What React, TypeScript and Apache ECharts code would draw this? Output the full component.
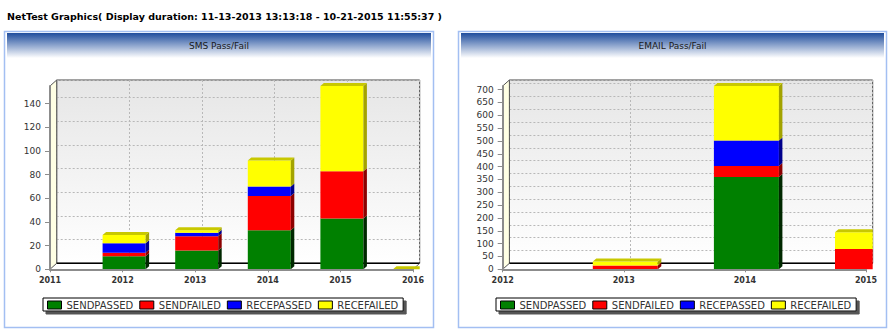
import React, { useEffect, useRef } from "react";
import * as echarts from "echarts";

// ---------- data ----------
const SERIES_NAMES = ["SENDPASSED", "SENDFAILED", "RECEPASSED", "RECEFAILED"];

const SMS_YEARS = [2012, 2013, 2014, 2015, 2016];
const SMS_SENDPASSED = [11, 16, 33, 43, 0];
const SMS_SENDFAILED = [3, 12, 29, 40, 0];
const SMS_RECEPASSED = [8, 3, 8, 0, 0];
const SMS_RECEFAILED = [7, 2, 22, 72, 0];
const SMS_X_RANGE = [2011, 2016];
const SMS_Y_MAX = 155;
const SMS_Y_STEP = 20;

const EMAIL_YEARS = [2013, 2014, 2015];
const EMAIL_SENDPASSED = [0, 360, 0];
const EMAIL_SENDFAILED = [15, 42, 79];
const EMAIL_RECEPASSED = [0, 100, 0];
const EMAIL_RECEFAILED = [15, 212, 65];
const EMAIL_X_RANGE = [2012, 2015];
const EMAIL_Y_MAX = 714;
const EMAIL_Y_STEP = 50;

const PAGE_TITLE =
  "NetTest Graphics( Display duration: 11-13-2013 13:13:18 - 10-21-2015 11:55:37 )";
const SMS_TITLE = "SMS Pass/Fail";
const EMAIL_TITLE = "EMAIL Pass/Fail";

// ---------- styles ----------
const FONT = "DejaVu Sans";
const FRONT = ["#008000", "#ff0000", "#0000ff", "#ffff00"];
const SIDE = ["#002800", "#8c0000", "#00008c", "#a3a300"];
const CAP = "#c8c800";
const DX = 6.7; // wall depth
const DY = -6;
const BDX = 3.5; // bar depth
const BDY = -3;
const BAR_SHIFT = 1.5;

function stackData(years: number[], arrays: number[][]) {
  const base = years.map(() => 0);
  return arrays.map((vals) =>
    years.map((y, j) => {
      const item = [y, vals[j], base[j]];
      base[j] += vals[j];
      return item;
    })
  );
}

function frameRender(xmin: number, xmax: number, ymax: number) {
  return (_p: any, api: any) => {
    const p00 = api.coord([xmin, 0]);
    const p10 = api.coord([xmax, 0]);
    const p0t = api.coord([xmin, ymax]);
    return {
      type: "group",
      children: [
        {
          type: "polygon",
          shape: {
            points: [p00, p10, [p10[0] + DX, p10[1] + DY], [p00[0] + DX, p00[1] + DY]],
          },
          style: { fill: "#ffffff" },
        },
        {
          type: "polygon",
          shape: {
            points: [p00, [p00[0] + DX, p00[1] + DY], [p0t[0] + DX, p0t[1] + DY], p0t],
          },
          style: { fill: "#ffffe4", stroke: "#555", lineWidth: 1 },
        },
        {
          type: "line",
          shape: { x1: p00[0] + DX, y1: p00[1] + DY, x2: p10[0] + DX, y2: p10[1] + DY },
          style: { stroke: "#000", lineWidth: 1.6 },
        },
        {
          type: "line",
          shape: { x1: p10[0], y1: p10[1], x2: p10[0] + DX, y2: p10[1] + DY },
          style: { stroke: "#666", lineWidth: 1 },
        },
      ],
    };
  };
}

function barRender(idx: number, isTop: boolean, barW: number, xmax: number) {
  return (_p: any, api: any) => {
    const x = api.value(0);
    const v = api.value(1);
    const b = api.value(2);
    const pb = api.coord([x, b]);
    const pt = api.coord([x, b + v]);
    const clipX = api.coord([xmax, 0])[0] + DX;
    const left = pb[0] - barW / 2 + BAR_SHIFT;
    const right = left + barW;
    const r = Math.min(right, clipX);
    const children: any[] = [];
    if (v > 0) {
      children.push({
        type: "rect",
        shape: { x: left, y: pt[1], width: r - left, height: pb[1] - pt[1] },
        style: { fill: FRONT[idx] },
      });
      if (right + BDX <= clipX) {
        children.push({
          type: "polygon",
          shape: {
            points: [
              [right, pb[1]],
              [right + BDX, pb[1] + BDY],
              [right + BDX, pt[1] + BDY],
              [right, pt[1]],
            ],
          },
          style: { fill: SIDE[idx] },
        });
      }
    }
    if (isTop) {
      children.push({
        type: "polygon",
        shape: {
          points: [
            [left, pt[1]],
            [left + BDX, pt[1] + BDY],
            [Math.min(right + BDX, clipX), pt[1] + BDY],
            [r, pt[1]],
          ],
        },
        style: { fill: CAP },
      });
    }
    return { type: "group", children };
  };
}

const backGradient = {
  type: "linear",
  x: 0,
  y: 0,
  x2: 0,
  y2: 1,
  colorStops: [
    { offset: 0, color: "#e6e6e6" },
    { offset: 1, color: "#ffffff" },
  ],
};

function buildChart(
  gi: number,
  front: { left: number; top: number; width: number; height: number },
  xRange: number[],
  yMax: number,
  yStep: number,
  years: number[],
  arrays: number[][],
  barW: number
) {
  const grids = [
    {
      left: front.left + DX,
      top: front.top + DY,
      width: front.width,
      height: front.height,
      show: true,
      backgroundColor: backGradient,
      borderColor: "#444",
      borderWidth: 1,
    },
    { left: front.left, top: front.top, width: front.width, height: front.height },
  ];
  const dashed = { show: true, lineStyle: { color: "#b8b8b8", type: [2, 2], width: 1 } };
  const xAxes = [
    {
      type: "value",
      gridIndex: gi,
      min: xRange[0],
      max: xRange[1],
      interval: 1,
      axisLine: { show: false },
      axisTick: { show: false },
      axisLabel: { show: false },
      splitLine: dashed,
    },
    {
      type: "value",
      gridIndex: gi + 1,
      min: xRange[0],
      max: xRange[1],
      interval: 1,
      z: 5,
      axisLine: { show: true, lineStyle: { color: "#8c8c8c", width: 2 } },
      axisTick: { show: true, length: 3, lineStyle: { color: "#8c8c8c" } },
      axisLabel: {
        margin: 7,
        fontFamily: FONT,
        fontSize: 8,
        fontWeight: "bold",
        color: "#333",
        formatter: (v: number) => String(v),
      },
      splitLine: { show: false },
    },
  ];
  const yAxes = [
    {
      type: "value",
      gridIndex: gi,
      min: 0,
      max: yMax,
      interval: yStep,
      axisLine: { show: false },
      axisTick: { show: false },
      axisLabel: { show: false },
      splitLine: dashed,
    },
    {
      type: "value",
      gridIndex: gi + 1,
      min: 0,
      max: yMax,
      interval: yStep,
      z: 5,
      axisLine: { show: true, lineStyle: { color: "#8c8c8c", width: 2 } },
      axisTick: { show: true, length: 5, lineStyle: { color: "#8c8c8c" } },
      axisLabel: {
        margin: 9,
        showMaxLabel: false,
        fontFamily: FONT,
        fontSize: 9,
        color: "#333",
      },
      splitLine: { show: false },
    },
  ];
  const stacked = stackData(years, arrays);
  const series: any[] = [
    {
      type: "custom",
      xAxisIndex: gi + 1,
      yAxisIndex: gi + 1,
      z: 1,
      silent: true,
      data: [[xRange[0], 0]],
      renderItem: frameRender(xRange[0], xRange[1], yMax),
    },
    ...stacked.map((data, i) => ({
      type: "custom",
      name: SERIES_NAMES[i],
      xAxisIndex: gi + 1,
      yAxisIndex: gi + 1,
      z: 2,
      itemStyle: { color: FRONT[i] },
      encode: { x: 0, y: 1 },
      data,
      renderItem: barRender(i, i === stacked.length - 1, barW, xRange[1]),
    })),
  ];
  return { grids, xAxes, yAxes, series };
}

function legendAt(left: number) {
  return {
    left,
    top: 298,
    orient: "horizontal",
    data: SERIES_NAMES,
    icon: "rect",
    itemWidth: 14,
    itemHeight: 8,
    itemGap: 6,
    padding: [2, 5, 1, 4],
    backgroundColor: "#ffffff",
    borderColor: "#000",
    borderWidth: 1,
    borderRadius: 0,
    shadowColor: "#555",
    shadowBlur: 0,
    shadowOffsetX: 3,
    shadowOffsetY: 3,
    itemStyle: { borderColor: "#000", borderWidth: 1 },
    textStyle: { fontFamily: FONT, fontSize: 10, color: "#333", lineHeight: 10 },
    selectedMode: false,
  };
}

const headerGradient = {
  type: "linear",
  x: 0,
  y: 0,
  x2: 0,
  y2: 1,
  colorStops: [
    { offset: 0, color: "#1f4d9d" },
    { offset: 1, color: "#ffffff" },
  ],
};

function panel(x: number, w: number, title: string) {
  return [
    {
      type: "rect",
      z: -10,
      shape: { x: x + 0.5, y: 31.5, width: w, height: 296 },
      style: { fill: "#ffffff", stroke: "#a3bff2", lineWidth: 1.5 },
    },
    {
      type: "rect",
      z: -9,
      shape: { x: x + 3, y: 33, width: w - 5, height: 25 },
      style: { fill: headerGradient },
    },
    {
      type: "text",
      z: -8,
      style: {
        text: title,
        x: x + 0.5 + w / 2,
        y: 46,
        align: "center",
        verticalAlign: "middle",
        fontFamily: FONT,
        fontSize: 9,
        fill: "#1a1a1a",
      },
    },
  ];
}

export default function App() {
  const ref = useRef<HTMLDivElement>(null);
  useEffect(() => {
    document.body.style.margin = "0";
    if (!ref.current) return;
    const chart = echarts.init(ref.current, undefined, { renderer: "svg" });
    const sms = buildChart(
      0,
      { left: 50, top: 86, width: 363, height: 183.3 },
      SMS_X_RANGE,
      SMS_Y_MAX,
      SMS_Y_STEP,
      SMS_YEARS,
      [SMS_SENDPASSED, SMS_SENDFAILED, SMS_RECEPASSED, SMS_RECEFAILED],
      43
    );
    const email = buildChart(
      2,
      { left: 502.7, top: 86, width: 363.3, height: 183.3 },
      EMAIL_X_RANGE,
      EMAIL_Y_MAX,
      EMAIL_Y_STEP,
      EMAIL_YEARS,
      [EMAIL_SENDPASSED, EMAIL_SENDFAILED, EMAIL_RECEPASSED, EMAIL_RECEFAILED],
      65
    );
    chart.setOption({
      animation: false,
      backgroundColor: "#ffffff",
      graphic: [
        {
          type: "text",
          style: {
            text: PAGE_TITLE,
            x: 7,
            y: 16.5,
            verticalAlign: "middle",
            fontFamily: FONT,
            fontSize: 9.5,
            fontWeight: "bold",
            fill: "#000",
          },
        },
        ...panel(4, 429, SMS_TITLE),
        ...panel(458, 428, EMAIL_TITLE),
      ],
      grid: [...sms.grids, ...email.grids],
      xAxis: [...sms.xAxes, ...email.xAxes],
      yAxis: [...sms.yAxes, ...email.yAxes],
      legend: [legendAt(43), legendAt(496)],
      series: [...sms.series, ...email.series],
    });
    return () => chart.dispose();
  }, []);
  return <div ref={ref} style={{ width: 890, height: 335 }} />;
}
